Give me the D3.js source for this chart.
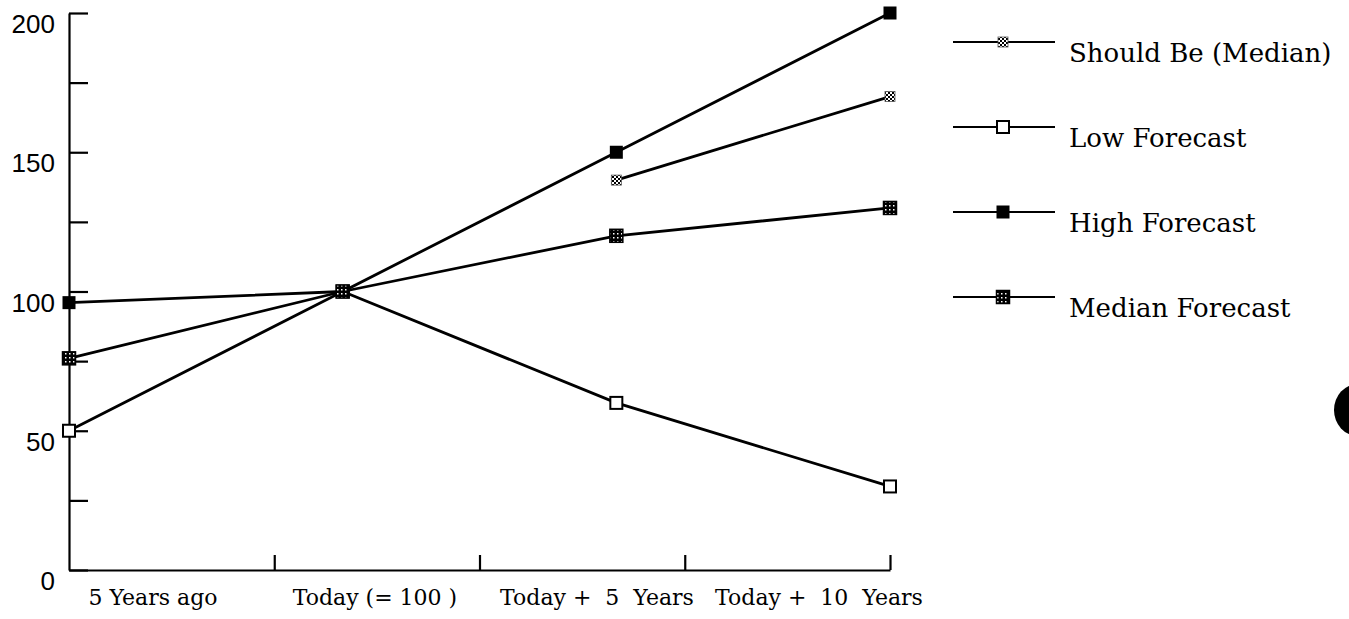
<!DOCTYPE html>
<html><head><meta charset="utf-8">
<script src="https://cdn.jsdelivr.net/npm/d3@7"></script>
<style>html,body{margin:0;padding:0;background:#fff;}svg{display:block;}</style>
</head><body>
<svg id="chart" width="1349" height="619"></svg>
<script>
const categories = ["5 Years ago", "Today (= 100 )", "Today +  5  Years", "Today +  10  Years"];
const shouldBe = [null, null, 140, 170];
const lowForecast = [50, 100, 60, 30];
const highForecast = [96, 100, 150, 200];
const medianForecast = [76, 100, 120, 130];
const yTicks = [0, 25, 50, 75, 100, 125, 150, 175, 200];
const yLabels = [0, 50, 100, 150, 200];
const xTicks = [0.75, 1.5, 2.25, 3];
const seriesNames = ["Should Be (Median)", "Low Forecast", "High Forecast", "Median Forecast"];

const svg = d3.select("#chart");
const defs = svg.append("defs");
const p1 = defs.append("pattern").attr("id","checker").attr("width",4).attr("height",4).attr("patternUnits","userSpaceOnUse");
p1.append("rect").attr("width",4).attr("height",4).attr("fill","#fff");
p1.append("rect").attr("width",2).attr("height",2).attr("fill","#000");
p1.append("rect").attr("x",2).attr("y",2).attr("width",2).attr("height",2).attr("fill","#000");
const p2 = defs.append("pattern").attr("id","dots").attr("width",4).attr("height",4).attr("patternUnits","userSpaceOnUse");
p2.append("rect").attr("width",4).attr("height",4).attr("fill","#000");
p2.append("rect").attr("x",1).attr("y",1).attr("width",1.5).attr("height",1.5).attr("fill","#fff");

const x = d3.scaleLinear().domain([0, 3]).range([69, 890]);
const y = d3.scaleLinear().domain([0, 200]).range([570, 13]);
const labelX = d3.scalePoint().domain(categories).range([153, 819]);

const serif = "DejaVu Serif, Liberation Serif, serif";

const yAxis = d3.axisLeft(y).tickValues(yTicks).tickSizeInner(-19).tickSizeOuter(0).tickPadding(14)
  .tickFormat(d => yLabels.includes(d) ? d : "");
const gy = svg.append("g").attr("transform", `translate(${x(0)},0)`).call(yAxis);
gy.selectAll("path,line").attr("stroke","#000").attr("stroke-width",2.2);
gy.selectAll("text").attr("font-family","Liberation Sans, Arial, sans-serif").attr("font-size",26)
  .attr("fill","#000").attr("dy","0.75em");

const xAxis = d3.axisBottom(x).tickValues(xTicks).tickSizeInner(-15).tickSizeOuter(0).tickFormat("");
const gx = svg.append("g").attr("transform", `translate(0,${y(0)})`).call(xAxis);
gx.selectAll("path,line").attr("stroke","#000").attr("stroke-width",2.2);

svg.append("g").selectAll("text").data(categories).join("text")
  .attr("x", d => labelX(d)).attr("y", 605).attr("text-anchor","middle")
  .attr("font-family",serif).attr("font-size",22).attr("fill","#000")
  .style("white-space","pre")
  .text(d => d);

const series = [
  {name: seriesNames[0], values: shouldBe, marker: "should"},
  {name: seriesNames[1], values: lowForecast, marker: "low"},
  {name: seriesNames[2], values: highForecast, marker: "high"},
  {name: seriesNames[3], values: medianForecast, marker: "median"}
];

const line = d3.line().defined(d => d != null).x((d,i) => x(i)).y(d => y(d));
svg.append("g").selectAll("path").data(series).join("path")
  .attr("d", s => line(s.values)).attr("fill","none").attr("stroke","#000").attr("stroke-width",2.8);

function drawMarker(g, type, cx, cy) {
  if (type === "low") {
    g.append("rect").attr("x",cx-6).attr("y",cy-6).attr("width",12).attr("height",12)
      .attr("fill","#fff").attr("stroke","#000").attr("stroke-width",2);
  } else if (type === "high") {
    g.append("rect").attr("x",cx-6.5).attr("y",cy-6.5).attr("width",13).attr("height",13).attr("fill","#000");
  } else if (type === "median") {
    g.append("rect").attr("x",cx-6.5).attr("y",cy-6.5).attr("width",13).attr("height",13)
      .attr("fill","url(#dots)").attr("stroke","#000").attr("stroke-width",1.5);
  } else {
    g.append("rect").attr("x",cx-5).attr("y",cy-5).attr("width",10).attr("height",10)
      .attr("fill","url(#checker)").attr("stroke","#555").attr("stroke-width",0.8);
  }
}

const mg = svg.append("g");
series.forEach(s => {
  s.values.forEach((v,i) => { if (v != null) drawMarker(mg, s.marker, x(i), y(v)); });
});

const legendY = d3.scalePoint().domain(seriesNames).range([42, 297]);
const lg = svg.append("g");
series.forEach(s => {
  const ly = legendY(s.name);
  lg.append("line").attr("x1",953).attr("x2",1055).attr("y1",ly).attr("y2",ly).attr("stroke","#000").attr("stroke-width",2);
  drawMarker(lg, s.marker, 1003, ly);
  lg.append("text").attr("x",1069).attr("y",ly+20).attr("font-family",serif)
    .attr("font-size",26).attr("fill","#000").text(s.name);
});

svg.append("ellipse").attr("cx",1358).attr("cy",410).attr("rx",24).attr("ry",26).attr("fill","#000");
</script>
</body></html>
